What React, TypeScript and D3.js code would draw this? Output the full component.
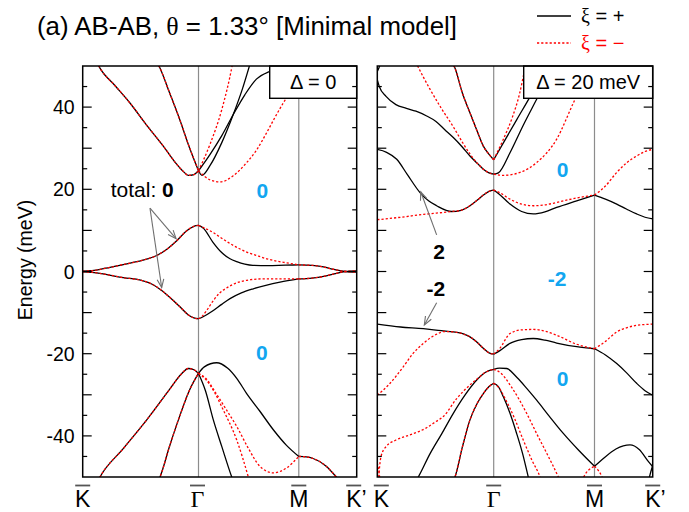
import React from "react";
import * as d3 from "d3";

type Pt = [number, number];

// ---------------- axis definitions ----------------
const PATH_TICKS = [0, 1, 1.866, 2.366]; // K, Gamma, M, K'
const PATH_LABELS = ["K", "Γ", "M", "K’"];
const E_LABELS = [-40, -20, 0, 20, 40];
const E_DOMAIN: Pt = [-50, 50];

// ---------------- left panel (Delta = 0) ----------------
const L_FLAT_UP_KG: Pt[] = [[0, 0.1], [0.08, 0.2], [0.2, 0.8], [0.35, 1.7], [0.512, 2.7], [0.639, 3.9], [0.73, 5.5], [0.812, 7.5], [0.898, 9.9], [0.96, 11], [1, 11.2]];
const L_FLAT_UP_GM_P: Pt[] = [[1, 11.2], [1.04, 10.6], [1.125, 7.1], [1.2, 4.6], [1.272, 3.1], [1.33, 2.4], [1.4, 1.8], [1.47, 1.5], [1.6, 1.45], [1.75, 1.55], [1.866, 1.6]];
const L_FLAT_UP_GM_M: Pt[] = [[1, 11.2], [1.05, 10.6], [1.125, 9.5], [1.2, 8.1], [1.272, 6.8], [1.35, 5.6], [1.416, 4.7], [1.5, 3.9], [1.589, 3.1], [1.68, 2.5], [1.762, 2.1], [1.866, 1.6]];
const L_FLAT_UP_MK: Pt[] = [[1.866, 1.6], [1.98, 1.5], [2.08, 1.1], [2.17, 0.5], [2.265, 0], [2.366, -0.15]];
const L_FLAT_DN_KG: Pt[] = [[0, -0.1], [0.08, -0.2], [0.2, -0.7], [0.35, -1.5], [0.5, -2.1], [0.6, -3.1], [0.682, -4.6], [0.76, -6.5], [0.84, -8.6], [0.91, -10.5], [0.96, -11.3], [1, -11.5]];
const L_FLAT_DN_GM_P: Pt[] = [[1, -11.5], [1.04, -11], [1.128, -9.5], [1.2, -8], [1.272, -6.6], [1.37, -5.2], [1.473, -4.2], [1.59, -3.3], [1.704, -2.6], [1.866, -1.8]];
const L_FLAT_DN_GM_M: Pt[] = [[1, -11.5], [1.035, -10.8], [1.07, -9.5], [1.125, -7.2], [1.18, -5.3], [1.243, -4.0], [1.3, -3.1], [1.358, -2.5], [1.45, -2], [1.55, -1.8], [1.7, -1.8], [1.866, -1.8]];
const L_FLAT_DN_MK: Pt[] = [[1.866, -1.8], [1.98, -1.6], [2.08, -1.2], [2.17, -0.6], [2.265, 0], [2.366, 0.15]];
const L_UP1_KG: Pt[] = [[0.12, 51], [0.149, 49.5], [0.28, 45.2], [0.408, 41], [0.55, 35.7], [0.696, 30.5], [0.8, 26.5], [0.87, 24.3], [0.912, 23.4], [0.96, 23.6], [1, 24.5]];
const L_UP2_KG: Pt[] = [[0.64, 51], [0.667, 49.5], [0.75, 43.5], [0.84, 36.8], [0.92, 30.3], [1, 24.5]];
const L_UPA_GM_P: Pt[] = [[1, 24.5], [1.1, 28.5], [1.2, 33], [1.3, 38.2], [1.4, 43], [1.5, 46.8], [1.6, 48.5], [1.7, 49.2], [1.866, 49.6]];
const L_UPB_GM_P: Pt[] = [[1, 24.5], [1.03, 23.4], [1.1, 25.8], [1.2, 31.3], [1.3, 38.2], [1.38, 44.5], [1.45, 51]];
const L_UPA_GM_M: Pt[] = [[1, 24.5], [1.1, 31], [1.2, 39.3], [1.29, 50], [1.3, 51.5]];
const L_UPB_GM_M: Pt[] = [[1, 24.5], [1.05, 23.2], [1.1, 22.3], [1.19, 21.8], [1.3, 23.3], [1.416, 26.5], [1.5, 29.5], [1.589, 33.8], [1.66, 37.5], [1.732, 41], [1.8, 44], [1.866, 46.5]];
const L_DN1_KG: Pt[] = [[0.13, -51], [0.149, -50], [0.35, -43.1], [0.553, -36.1], [0.75, -28.7], [0.85, -25], [0.912, -23.6], [0.96, -23.9], [1, -24.8]];
const L_DN2_KG: Pt[] = [[0.64, -51.5], [0.667, -50], [0.75, -42.5], [0.84, -35], [0.92, -29], [1, -24.8]];
const L_DNC_GM_P: Pt[] = [[1, -24.8], [1.05, -23.2], [1.157, -22.2], [1.25, -23.5], [1.33, -26], [1.416, -29.7], [1.53, -34], [1.646, -38.5], [1.76, -42.3], [1.866, -45]];
const L_DNC_MK: Pt[] = [[1.866, -45], [1.93, -45.1], [1.99, -45.5], [2.1, -47.3], [2.19, -50], [2.22, -51]];
const L_DND_GM_P: Pt[] = [[1, -24.8], [1.06, -29], [1.128, -36.1], [1.2, -42.5], [1.287, -50], [1.3, -51]];
const L_DNC1_GM_M: Pt[] = [[1, -24.8], [1.07, -26.5], [1.14, -29.5], [1.214, -33.7], [1.33, -41], [1.43, -50], [1.44, -51]];
const L_DNC2_GM_M: Pt[] = [[1, -24.8], [1.07, -26.2], [1.15, -29.6], [1.24, -33.6], [1.33, -37.7], [1.43, -43], [1.53, -47.4], [1.646, -49], [1.76, -47.8], [1.866, -45]];

const LEFT_PLUS: Pt[][] = [L_FLAT_UP_KG, L_FLAT_UP_GM_P, L_FLAT_UP_MK, L_FLAT_DN_KG, L_FLAT_DN_GM_P, L_FLAT_DN_MK, L_UP1_KG, L_UP2_KG, L_UPA_GM_P, L_UPB_GM_P, L_DN1_KG, L_DN2_KG, L_DNC_GM_P, L_DNC_MK, L_DND_GM_P];
const LEFT_MINUS: Pt[][] = [L_FLAT_UP_KG, L_FLAT_UP_GM_M, L_FLAT_UP_MK, L_FLAT_DN_KG, L_FLAT_DN_GM_M, L_FLAT_DN_MK, L_UP1_KG, L_UP2_KG, L_UPA_GM_M, L_UPB_GM_M, L_DN1_KG, L_DN2_KG, L_DNC1_GM_M, L_DNC2_GM_M, L_DNC_MK];

// ---------------- right panel (Delta = 20 meV) ----------------
const R_B1_KG_P: Pt[] = [[0, 29.7], [0.08, 29], [0.167, 27.3], [0.26, 23.5], [0.367, 19.2], [0.44, 17.2], [0.51, 16], [0.639, 14.6], [0.72, 14.9], [0.796, 16], [0.86, 17.4], [0.911, 18.6], [0.96, 19.5], [1, 19.8]];
const R_B1_KG_M: Pt[] = [[0, 12.6], [0.2, 13.2], [0.4, 13.9], [0.639, 14.6], [0.72, 14.9], [0.796, 16], [0.86, 17.4], [0.911, 18.6], [0.96, 19.5], [1, 19.8]];
const R_B1_GM_P: Pt[] = [[1, 19.8], [1.04, 19], [1.14, 16.4], [1.24, 14.6], [1.34, 14], [1.44, 14.5], [1.541, 15.6], [1.713, 17.2], [1.866, 18.6]];
const R_B1_GM_M: Pt[] = [[1, 19.8], [1.05, 19.2], [1.14, 17.6], [1.24, 16.4], [1.34, 16], [1.44, 16.2], [1.541, 16.8], [1.713, 17.9], [1.866, 18.6]];
const R_B1_MK_P: Pt[] = [[1.866, 18.6], [1.96, 17.6], [2.057, 16.4], [2.14, 15.2], [2.228, 14], [2.3, 13.2], [2.366, 12.8]];
const R_B1_MK_M: Pt[] = [[1.866, 18.6], [1.96, 20.8], [2.057, 24.1], [2.14, 26.4], [2.228, 28.1], [2.3, 29.2], [2.366, 29.7]];
const R_B2_KG_P: Pt[] = [[0, 46.6], [0.017, 45], [0.075, 42.6], [0.16, 40.6], [0.25, 39.7], [0.332, 39], [0.42, 37.9], [0.504, 36.5], [0.58, 34.5], [0.653, 32.6], [0.73, 30.3], [0.796, 28.1], [0.86, 26.3], [0.911, 24.9], [0.96, 24], [1, 23.7]];
const R_B2_KG_M: Pt[] = [[0.33, 51], [0.347, 50], [0.45, 44.5], [0.55, 39.7], [0.653, 35.2], [0.73, 31.5], [0.796, 28.6], [0.86, 26.3], [0.911, 24.9], [0.96, 24], [1, 23.7]];
const R_B2_GM_P: Pt[] = [[1, 23.7], [1.04, 24], [1.14, 28.9], [1.254, 35.6], [1.369, 41.9], [1.48, 48], [1.52, 50], [1.54, 51]];
const R_B2_GM_M: Pt[] = [[1, 23.7], [1.083, 23.4], [1.226, 24.1], [1.369, 26.5], [1.541, 32.2], [1.684, 41], [1.75, 45], [1.866, 49]];
const R_B3_KG: Pt[] = [[0.64, 51], [0.667, 49.5], [0.73, 43.5], [0.796, 38.6], [0.86, 34], [0.911, 30.5], [0.96, 28.5], [1, 27.2]];
const R_B3_GM_P: Pt[] = [[1, 27.2], [1.083, 31.3], [1.197, 36.9], [1.312, 42.5], [1.42, 48], [1.46, 50], [1.48, 51]];
const R_B3_GM_M: Pt[] = [[1, 27.2], [1.08, 32], [1.16, 37.5], [1.22, 43], [1.269, 49.5], [1.28, 51]];
const R_B4_KG_P: Pt[] = [[0, 48.7], [0.02, 50], [0.03, 51]];
const R_V1_KG_P: Pt[] = [[0, -12.8], [0.2, -13.5], [0.395, -13.9], [0.55, -14.4], [0.653, -14.7], [0.74, -15.2], [0.796, -15.9], [0.86, -17.3], [0.911, -18.7], [0.96, -19.8], [1, -20.1]];
const R_V1_KG_M: Pt[] = [[0, -30.1], [0.1, -27.5], [0.223, -23.2], [0.3, -20.2], [0.395, -17.5], [0.5, -15.4], [0.58, -14.6], [0.653, -14.7], [0.74, -15.2], [0.796, -15.9], [0.86, -17.3], [0.911, -18.7], [0.96, -19.8], [1, -20.1]];
const R_V1_GM_P: Pt[] = [[1, -20.1], [1.05, -19.3], [1.14, -17.5], [1.24, -16.6], [1.34, -16.3], [1.44, -16.7], [1.541, -17.4], [1.713, -18.3], [1.866, -18.8]];
const R_V1_GM_M: Pt[] = [[1, -20.1], [1.05, -18.8], [1.14, -15.1], [1.24, -14.2], [1.34, -14.1], [1.44, -14.5], [1.541, -15.5], [1.713, -17.7], [1.866, -18.8]];
const R_V1_MK_P: Pt[] = [[1.866, -18.8], [1.96, -20.3], [2.057, -22.4], [2.14, -24.6], [2.228, -27.2], [2.3, -29], [2.366, -30.1]];
const R_V1_MK_M: Pt[] = [[1.866, -18.8], [1.96, -17], [2.057, -14.7], [2.14, -13.7], [2.228, -13.1], [2.3, -12.9], [2.366, -12.8]];
const R_V2_KG_P: Pt[] = [[0.33, -51], [0.352, -50], [0.45, -44.5], [0.553, -39.5], [0.653, -34.5], [0.75, -30.2], [0.854, -26.4], [0.93, -24.5], [1, -23.8]];
const R_V2_KG_M: Pt[] = [[0.01, -51], [0.014, -49.4], [0.032, -45], [0.075, -42.6], [0.16, -41], [0.275, -39.8], [0.418, -38.1], [0.504, -36.5], [0.567, -35.3], [0.68, -31], [0.796, -27.6], [0.854, -26.2], [0.93, -24.5], [1, -23.8]];
const R_V2_GM_P: Pt[] = [[1, -23.8], [1.05, -23.5], [1.112, -23.6], [1.2, -25.8], [1.28, -28.3], [1.369, -31.3], [1.48, -35.3], [1.598, -39.4], [1.73, -43.5], [1.866, -47.4]];
const R_V2_GM_M: Pt[] = [[1, -23.8], [1.06, -24.7], [1.15, -28], [1.283, -34.5], [1.37, -39.5], [1.455, -44.2], [1.555, -50], [1.57, -51]];
const R_V2_MK_P: Pt[] = [[1.866, -47.4], [1.95, -45.3], [2.05, -43.2], [2.171, -42.2], [2.25, -43.3], [2.328, -46.2], [2.366, -47.5]];
const R_V3_KG: Pt[] = [[0.64, -51.5], [0.667, -50], [0.73, -42.8], [0.796, -36.1], [0.86, -32], [0.911, -29.7], [0.96, -28], [1, -27.2]];
const R_V3_GM_P: Pt[] = [[1, -27.2], [1.04, -28], [1.083, -30.5], [1.14, -34.5], [1.197, -39.4], [1.25, -44.5], [1.297, -50], [1.31, -51.5]];
const R_V3_GM_M: Pt[] = [[1, -27.2], [1.05, -28.5], [1.1, -31], [1.18, -35.8], [1.254, -41], [1.33, -46], [1.398, -50], [1.41, -51]];
const R_V4_MK_P: Pt[] = [[2.33, -51], [2.338, -50], [2.366, -47.2]];
const R_V4_KG_M: Pt[] = [[0, -46.6], [0.015, -49], [0.025, -51]];
const R_MPEAK_A_M: Pt[] = [[1.76, -51], [1.773, -50], [1.866, -47.4]];
const R_MPEAK_B_M: Pt[] = [[1.866, -47.4], [1.931, -50], [1.945, -51]];

const RIGHT_PLUS: Pt[][] = [R_B1_KG_P, R_B1_GM_P, R_B1_MK_P, R_B2_KG_P, R_B2_GM_P, R_B3_KG, R_B3_GM_P, R_B4_KG_P, R_V1_KG_P, R_V1_GM_P, R_V1_MK_P, R_V2_KG_P, R_V2_GM_P, R_V2_MK_P, R_V3_KG, R_V3_GM_P, R_V4_MK_P];
const RIGHT_MINUS: Pt[][] = [R_B1_KG_M, R_B1_GM_M, R_B1_MK_M, R_B2_KG_M, R_B2_GM_M, R_B3_KG, R_B3_GM_M, R_V1_KG_M, R_V1_GM_M, R_V1_MK_M, R_V2_KG_M, R_V2_GM_M, R_V3_KG, R_V3_GM_M, R_V4_KG_M, R_MPEAK_A_M, R_MPEAK_B_M];

// ---------------- annotations (data coordinates: k, E) ----------------
type Lab = { k: number; e: number; t: string };
type Arr = { k0: number; e0: number; k1: number; e1: number };
const LEFT_BLUE: Lab[] = [{ k: 1.552, e: 18.0, t: "0" }, { k: 1.546, e: -21.5, t: "0" }];
const RIGHT_BLUE: Lab[] = [{ k: 1.591, e: 22.9, t: "0" }, { k: 1.544, e: -3.5, t: "-2" }, { k: 1.591, e: -27.9, t: "0" }];
const RIGHT_BLACK: Lab[] = [{ k: 0.53, e: 3.0, t: "2" }, { k: 0.504, e: -6.0, t: "-2" }];
const LEFT_ARROWS: Arr[] = [{ k0: 0.581, e0: 15.4, k1: 0.806, e1: 8.0 }, { k0: 0.581, e0: 15.4, k1: 0.682, e1: -3.9 }];
const RIGHT_ARROWS: Arr[] = [{ k0: 0.51, e0: 8.9, k1: 0.373, e1: 19.4 }, { k0: 0.51, e0: -7.6, k1: 0.404, e1: -13.0 }];

const SANS = "'Liberation Sans', Arial, Helvetica, sans-serif";
const SERIF = "'Liberation Serif', 'Times New Roman', serif";
const BLUE = "#12a6f0";
const TOP = 66;
const BOTTOM = 477;

type PanelProps = {
  id: string;
  x0: number;
  x1: number;
  plus: Pt[][];
  minus: Pt[][];
  boxText: string;
  boxW: number;
  blue: Lab[];
  black: Lab[];
  arrows: Arr[];
  showY: boolean;
  labelShift: number[];
  total?: { k: number; e: number };
};

function Panel(p: PanelProps) {
  const xs = d3.scaleLinear().domain([0, 2.366]).range([p.x0, p.x1]);
  const ys = d3.scaleLinear().domain(E_DOMAIN).range([BOTTOM, TOP]);
  const line = d3
    .line<Pt>()
    .x((d) => xs(d[0]))
    .y((d) => ys(d[1]))
    .curve(d3.curveMonotoneX);
  const major = d3.range(-40, 41, 10);
  const minor = d3.range(-45, 46, 10);
  const arrowHead = (a: Arr) => {
    const tx = xs(a.k0), ty = ys(a.e0), hx = xs(a.k1), hy = ys(a.e1);
    const ang = Math.atan2(hy - ty, hx - tx);
    const L = 9, s = 0.38;
    const p1 = [hx - L * Math.cos(ang - s), hy - L * Math.sin(ang - s)];
    const p2 = [hx - L * Math.cos(ang + s), hy - L * Math.sin(ang + s)];
    return { tx, ty, hx, hy, d: `M${p1[0]},${p1[1]}L${hx},${hy}L${p2[0]},${p2[1]}` };
  };
  return (
    <g>
      <defs>
        <clipPath id={p.id}>
          <rect x={p.x0} y={TOP} width={p.x1 - p.x0} height={BOTTOM - TOP} />
        </clipPath>
      </defs>
      {PATH_TICKS.slice(1, 3).map((k) => (
        <line key={k} x1={xs(k)} x2={xs(k)} y1={TOP} y2={BOTTOM} stroke="#8c8c8c" strokeWidth={1.2} />
      ))}
      <g clipPath={`url(#${p.id})`}>
        {p.plus.map((seg, i) => (
          <path key={"p" + i} d={line(seg) || ""} fill="none" stroke="#000" strokeWidth={1.3} />
        ))}
        {p.minus.map((seg, i) => (
          <path key={"m" + i} d={line(seg) || ""} fill="none" stroke="#ff0000" strokeWidth={1.3} strokeDasharray="2.2,2" />
        ))}
      </g>
      {p.arrows.map((a, i) => {
        const h = arrowHead(a);
        return (
          <g key={"a" + i} stroke="#6e6e6e" strokeWidth={1.1} fill="none">
            <line x1={h.tx} y1={h.ty} x2={h.hx} y2={h.hy} />
            <path d={h.d} />
          </g>
        );
      })}
      {p.total && (
        <text x={xs(p.total.k)} y={ys(p.total.e)} fontFamily={SANS} fontSize={21}>
          total: <tspan fontWeight="bold">0</tspan>
        </text>
      )}
      {p.blue.map((l, i) => (
        <text key={"b" + i} x={xs(l.k)} y={ys(l.e)} textAnchor="middle" fontFamily={SANS} fontSize={21} fontWeight="bold" fill={BLUE}>
          {l.t}
        </text>
      ))}
      {p.black.map((l, i) => (
        <text key={"k" + i} x={xs(l.k)} y={ys(l.e)} textAnchor="middle" fontFamily={SANS} fontSize={21} fontWeight="bold" fill="#000">
          {l.t}
        </text>
      ))}
      <rect x={p.x1 - p.boxW} y={TOP} width={p.boxW} height={32.3} fill="#fff" stroke="#000" strokeWidth={1.4} />
      <text x={p.x1 - p.boxW / 2} y={TOP + 23} textAnchor="middle" fontFamily={SANS} fontSize={20}>
        {p.boxText}
      </text>
      {major.map((e) => (
        <g key={"M" + e} stroke="#000" strokeWidth={1.2}>
          <line x1={p.x0} x2={p.x0 + 9} y1={ys(e)} y2={ys(e)} />
          <line x1={p.x1} x2={p.x1 - 9} y1={ys(e)} y2={ys(e)} />
        </g>
      ))}
      {minor.map((e) => (
        <g key={"m" + e} stroke="#000" strokeWidth={1.2}>
          <line x1={p.x0} x2={p.x0 + 4.5} y1={ys(e)} y2={ys(e)} />
          <line x1={p.x1} x2={p.x1 - 4.5} y1={ys(e)} y2={ys(e)} />
        </g>
      ))}
      <rect x={p.x0} y={TOP} width={p.x1 - p.x0} height={BOTTOM - TOP} fill="none" stroke="#000" strokeWidth={1.5} />
      {p.showY &&
        E_LABELS.map((e) => (
          <text key={"yl" + e} x={p.x0 - 8} y={ys(e) + 7} textAnchor="end" fontFamily={SANS} fontSize={19.5}>
            {e}
          </text>
        ))}
      {PATH_TICKS.map((k, i) => {
        const cx = xs(k) + p.labelShift[i];
        const isG = i === 1;
        const txt = PATH_LABELS[i];
        const kx = i === 3 ? cx - 7.5 : cx;
        return (
          <g key={"xl" + i}>
            <line x1={cx - 7.5} x2={cx + 7.5} y1={485.5} y2={485.5} stroke="#555" strokeWidth={1.8} />
            <text
              x={kx}
              y={507}
              textAnchor={i === 3 ? "start" : "middle"}
              fontFamily={isG ? SERIF : SANS}
              fontSize={isG ? 24 : 23}
            >
              {txt}
            </text>
          </g>
        );
      })}
    </g>
  );
}

export default function App() {
  return (
    <svg
      width={689}
      height={512}
      viewBox="0 0 689 512"
      style={{ position: "absolute", left: 0, top: 0, background: "#fff" }}
    >
      <rect x={0} y={0} width={689} height={512} fill="#fff" />
      <text x={37} y={35} fontFamily={SANS} fontSize={25} textLength={420} lengthAdjust="spacingAndGlyphs">
        (a) AB-AB, <tspan fontFamily={SERIF}>θ</tspan> = 1.33° [Minimal model]
      </text>
      <line x1={537} x2={571} y1={16} y2={16} stroke="#000" strokeWidth={1.3} />
      <text x={581} y={23} fontFamily={SANS} fontSize={20}>
        <tspan fontFamily={SERIF}>ξ</tspan> = +
      </text>
      <line x1={537} x2={571} y1={43} y2={43} stroke="#ff0000" strokeWidth={1.3} strokeDasharray="2.2,2" />
      <text x={581} y={50} fontFamily={SANS} fontSize={20} fill="#ff0000">
        <tspan fontFamily={SERIF}>ξ</tspan> = −
      </text>
      <text
        transform="translate(32,260) rotate(-90)"
        textAnchor="middle"
        fontFamily={SANS}
        fontSize={19.5}
      >
        Energy (meV)
      </text>
      <Panel
        id="clipL"
        x0={82.7}
        x1={356.7}
        plus={LEFT_PLUS}
        minus={LEFT_MINUS}
        boxText="Δ = 0"
        boxW={87}
        blue={LEFT_BLUE}
        black={[]}
        arrows={LEFT_ARROWS}
        showY={true}
        labelShift={[0, -1, 0, -3]}
        total={{ k: 0.242, e: 18.2 }}
      />
      <Panel
        id="clipR"
        x0={377.3}
        x1={652.7}
        plus={RIGHT_PLUS}
        minus={RIGHT_MINUS}
        boxText="Δ = 20 meV"
        boxW={129}
        blue={RIGHT_BLUE}
        black={RIGHT_BLACK}
        arrows={RIGHT_ARROWS}
        showY={false}
        labelShift={[4, 0, 0, 0]}
      />
    </svg>
  );
}
